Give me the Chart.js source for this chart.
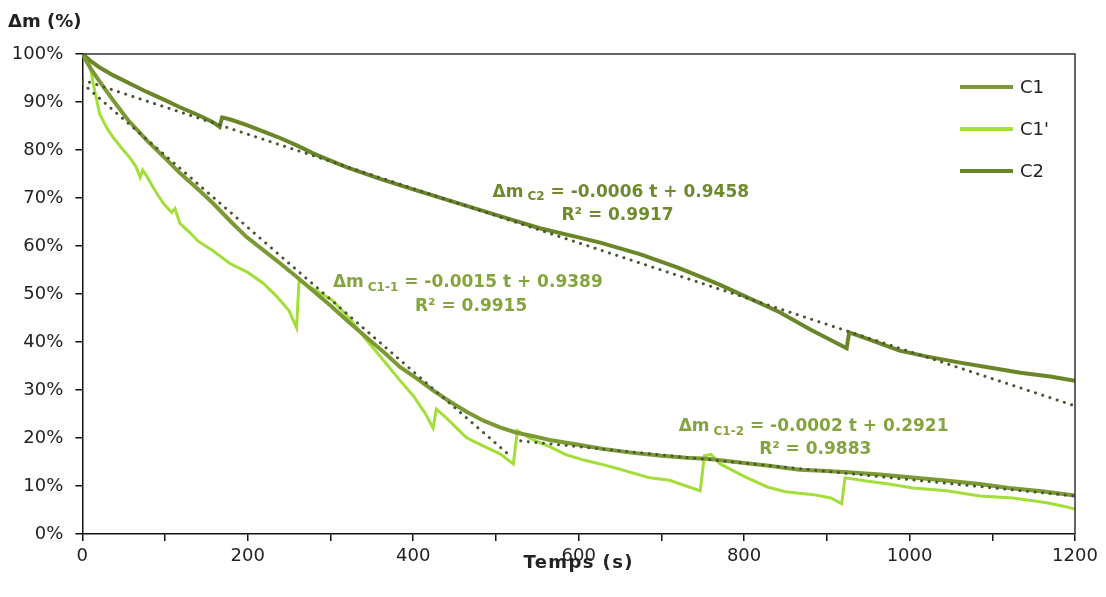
<!DOCTYPE html>
<html>
<head>
<meta charset="utf-8">
<script src="https://cdn.jsdelivr.net/npm/chart.js@4.4.1/dist/chart.umd.min.js"></script>
<style>
html, body { margin: 0; padding: 0; background: #fff; }
#wrap { width: 1106px; height: 597px; }
</style>
</head>
<body>
<div id="wrap"><canvas id="chart" width="1106" height="597"></canvas></div>
<script>
// measured series, time in s, mass loss in %
const c1Time = [0, 10, 20, 37, 55, 78, 100, 118, 140, 158, 180, 199, 220, 239, 259, 280, 300, 320, 344, 365, 384, 405, 424, 445, 465, 485, 505, 525, 545, 565, 600, 630, 666, 700, 730, 755, 790, 830, 867, 900, 930, 964, 1000, 1040, 1085, 1120, 1160, 1200];
const c1Mass = [100, 97, 94.5, 90.4, 86.3, 82, 78.3, 75.2, 71.8, 68.9, 65, 61.8, 59, 56.4, 53.6, 50.5, 47.6, 44.5, 40.9, 37.8, 34.8, 32.3, 29.9, 27.5, 25.4, 23.6, 22.2, 21.1, 20.4, 19.6, 18.6, 17.7, 16.9, 16.3, 15.9, 15.7, 15, 14.2, 13.4, 13.1, 12.8, 12.4, 11.8, 11.2, 10.4, 9.6, 8.9, 8];

const c1bTime = [0, 8, 13, 21, 30, 37, 47, 57, 65, 70, 73, 78, 88, 98, 108, 112, 118, 130, 140, 158, 178, 200, 219, 235, 250, 259, 262, 280, 303, 325, 344, 365, 384, 400, 415, 424, 428, 440, 465, 485, 505, 521, 526, 545, 565, 585, 606, 626, 650, 686, 710, 730, 747, 752, 760, 771, 800, 828, 850, 884, 905, 918, 922, 950, 975, 1004, 1045, 1085, 1125, 1166, 1186, 1200];
const c1bMass = [100, 99, 94, 87.5, 84.5, 82.7, 80.5, 78.5, 76.5, 74.3, 75.8, 74.5, 71.5, 68.9, 67, 67.8, 64.7, 62.8, 61, 59, 56.4, 54.5, 52.2, 49.5, 46.5, 43, 52.8, 51, 48.6, 44.5, 40.3, 36, 32, 28.8, 25, 22.1, 26, 24.2, 20, 18.3, 16.7, 14.6, 21.5, 19.6, 18.2, 16.5, 15.4, 14.6, 13.5, 11.7, 11.2, 10, 9, 16.3, 16.6, 14.6, 12, 9.8, 8.8, 8.2, 7.5, 6.3, 11.7, 11, 10.4, 9.6, 9, 7.9, 7.5, 6.5, 5.8, 5.2];

const c2Time = [0, 9, 20, 37, 58, 78, 100, 118, 140, 158, 166, 169, 180, 199, 220, 239, 260, 279, 300, 320, 340, 360, 400, 445, 500, 553, 600, 626, 674, 720, 747, 771, 800, 843, 880, 924, 927, 950, 988, 1020, 1061, 1100, 1134, 1170, 1200];
const c2Mass = [100, 98.7, 97.3, 95.6, 93.8, 92.1, 90.4, 88.9, 87.3, 85.8, 84.8, 86.8, 86.3, 85.2, 83.8, 82.5, 80.9, 79.3, 77.8, 76.4, 75.2, 74, 71.8, 69.4, 66.5, 63.7, 61.8, 60.7, 58.3, 55.5, 53.6, 51.9, 49.6, 46.2, 42.6, 38.7, 42, 40.6, 38.2, 37, 35.7, 34.6, 33.6, 32.8, 31.9];

// linear fits (end points)
const fitC2Time = [0, 1200];
const fitC2Mass = [94.6, 26.7];
const fitC11Time = [0, 515];
const fitC11Mass = [93.9, 16.6];
const fitC12Time = [530, 1200];
const fitC12Mass = [19.4, 7.9];

const seriesNames = ['C1', "C1'", 'C2'];

// fit equations: [Δm, subscript, rest, R²]
const eqC2 = ['Δm', 'C2', ' = -0.0006 t + 0.9458', 'R² = 0.9917'];
const eqC11 = ['Δm', 'C1-1', ' = -0.0015 t + 0.9389', 'R² = 0.9915'];
const eqC12 = ['Δm', 'C1-2', ' = -0.0002 t + 0.2921', 'R² = 0.9883'];

const FONT = '"DejaVu Sans", sans-serif';
const colC1 = '#7b9a33';
const colC1b = '#a3de3a';
const colC2 = '#6a8629';
const colFit = '#4a5634';

function pts(ts, vs) {
    return ts.map((t, i) => ({ x: t, y: vs[i] }));
}

function fitSet(ts, vs) {
    return {
        data: pts(ts, vs),
        borderColor: colFit,
        borderWidth: 3,
        borderDash: [0.1, 7.5],
        borderCapStyle: 'round',
        pointRadius: 0,
        fill: false,
        order: 0
    };
}

// where each equation sits (data units)
const eqPlaces = [
    { eq: eqC2, color: '#6e8a2c', t1: 651, v1: 71.2, t2: 647, v2: 66.4 },
    { eq: eqC11, color: '#84a43e', t1: 466, v1: 52.3, t2: 470, v2: 47.3 },
    { eq: eqC12, color: '#84a43e', t1: 884, v1: 22.3, t2: 886, v2: 17.5 }
];

const overlay = {
    id: 'overlay',
    afterDraw(chart) {
        const ctx = chart.ctx;
        const a = chart.chartArea;
        const xs = chart.scales.x, ys = chart.scales.y;
        ctx.save();

        // frame top + right
        ctx.strokeStyle = '#333';
        ctx.lineWidth = 1.5;
        ctx.beginPath();
        ctx.moveTo(a.left, a.top);
        ctx.lineTo(a.right, a.top);
        ctx.lineTo(a.right, a.bottom);
        ctx.stroke();

        // axis titles
        ctx.fillStyle = '#222';
        ctx.font = 'bold 18px ' + FONT;
        ctx.textBaseline = 'middle';
        ctx.textAlign = 'left';
        ctx.fillText('Δm (%)', 8, 22);
        ctx.textAlign = 'center';
        ctx.letterSpacing = '1.4px';
        ctx.fillText('Temps (s)', (a.left + a.right) / 2, a.bottom + 29);
        ctx.letterSpacing = '0px';

        // legend
        const legendSets = chart.data.datasets.filter(d => d.label);
        legendSets.forEach((d, i) => {
            const y = 87 + i * 42;
            ctx.strokeStyle = d.borderColor;
            ctx.lineWidth = 4;
            ctx.beginPath();
            ctx.moveTo(960, y);
            ctx.lineTo(1013, y);
            ctx.stroke();
            ctx.fillStyle = '#222';
            ctx.font = '18px ' + FONT;
            ctx.textAlign = 'left';
            ctx.fillText(d.label, 1020, y + 1);
        });

        // equations
        eqPlaces.forEach(p => {
            const [m, sub, rest, r2] = p.eq;
            const big = 'bold 17px ' + FONT, small = 'bold 12px ' + FONT;
            ctx.font = big;
            const wm = ctx.measureText(m).width;
            const wr = ctx.measureText(rest).width;
            ctx.font = small;
            const ws = ctx.measureText(sub).width;
            const gap = 4;
            const total = wm + gap + ws + wr;
            let x = xs.getPixelForValue(p.t1) - total / 2;
            const y = ys.getPixelForValue(p.v1);
            ctx.fillStyle = p.color;
            ctx.textAlign = 'left';
            ctx.textBaseline = 'middle';
            ctx.font = big;
            ctx.fillText(m, x, y);
            x += wm + gap;
            ctx.font = small;
            ctx.fillText(sub, x, y + 5);
            x += ws;
            ctx.font = big;
            ctx.fillText(rest, x, y);
            ctx.textAlign = 'center';
            ctx.fillText(r2, xs.getPixelForValue(p.t2), ys.getPixelForValue(p.v2));
        });
        ctx.restore();
    }
};

new Chart(document.getElementById('chart'), {
    type: 'line',
    data: {
        datasets: [
            fitSet(fitC2Time, fitC2Mass),
            fitSet(fitC11Time, fitC11Mass),
            fitSet(fitC12Time, fitC12Mass),
            { label: seriesNames[0], data: pts(c1Time, c1Mass), borderColor: colC1, borderWidth: 4, pointRadius: 0, order: 1 },
            { label: seriesNames[1], data: pts(c1bTime, c1bMass), borderColor: colC1b, borderWidth: 3, pointRadius: 0, order: 3 },
            { label: seriesNames[2], data: pts(c2Time, c2Mass), borderColor: colC2, borderWidth: 4, pointRadius: 0, order: 2 }
        ]
    },
    options: {
        responsive: false,
        animation: false,
        devicePixelRatio: 1,
        layout: { padding: { top: 54, right: 31, left: 0, bottom: 0 } },
        plugins: { legend: { display: false }, tooltip: { enabled: false } },
        scales: {
            x: {
                type: 'linear',
                min: 0,
                max: 1200,
                afterFit: s => { s.height = 63; },
                border: { color: '#111', width: 1.5 },
                grid: { drawOnChartArea: false, drawTicks: true, tickLength: 7, color: '#111', lineWidth: 1.5 },
                ticks: {
                    stepSize: 100,
                    padding: 5,
                    color: '#222',
                    font: { family: FONT, size: 18 },
                    callback: v => (v % 200 === 0 ? String(v) : '')
                }
            },
            y: {
                min: 0,
                max: 100,
                afterFit: s => { s.width = 82.3; },
                border: { color: '#111', width: 1.5 },
                grid: { drawOnChartArea: false, drawTicks: true, tickLength: 7, color: '#111', lineWidth: 1.5 },
                ticks: {
                    stepSize: 10,
                    padding: 12,
                    color: '#222',
                    font: { family: FONT, size: 18 },
                    callback: v => v + '%'
                }
            }
        }
    },
    plugins: [overlay]
});
</script>
</body>
</html>
